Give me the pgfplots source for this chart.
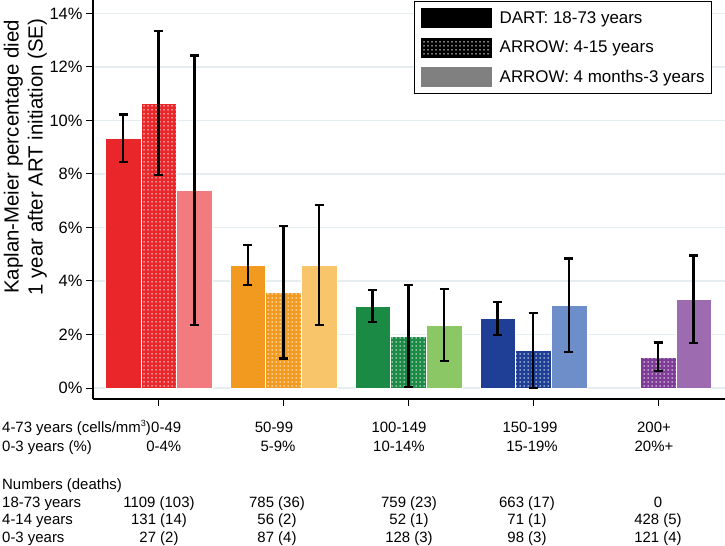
\documentclass[border=0pt]{standalone}
\usepackage{fontspec}
\setmainfont{Liberation Sans}
\usepackage{pgfplots}
\pgfplotsset{compat=1.18}
\usetikzlibrary{patterns.meta}

\definecolor{cred}{HTML}{E9262A}
\definecolor{credl}{HTML}{F27B80}
\definecolor{corange}{HTML}{F29A20}
\definecolor{corangel}{HTML}{F8C56B}
\definecolor{cgreen}{HTML}{1A8A44}
\definecolor{cgreenl}{HTML}{8BC765}
\definecolor{cblue}{HTML}{1F3F96}
\definecolor{cbluel}{HTML}{6D8EC8}
\definecolor{cpurple}{HTML}{7E3C98}
\definecolor{cpurplel}{HTML}{9D6BAF}
\definecolor{gridc}{HTML}{E6EDF1}

\tikzset{dotfill/.style={postaction={pattern={Dots[distance=4bp,radius=0.75bp]}, pattern color=white}}}
% bars sit at their own x (group centre -0.2856 / 0 / +0.2856)
\pgfplotsset{
  kmbar/.style={ybar, bar width=0.2856, bar shift=0, draw=white, line width=0.4bp, forget plot,
    error bars/y dir=both, error bars/y explicit,
    error bars/error bar style={line width=2.5bp, draw=black},
    error bars/error mark options={rotate=90, mark size=4.5bp, line width=2.4bp, draw=black}},
}
\newcommand\tabfont{\fontsize{15}{18}\selectfont}

\begin{document}
\begin{tikzpicture}
\useasboundingbox (-93bp,-147bp) rectangle (632bp,399bp);
\begin{axis}[
    scale only axis,
    width=632bp, height=399bp,
    xmin=-0.526, xmax=4.536,
    ymin=-0.41, ymax=14.5,
    axis x line*=bottom, axis y line*=left,
    axis line style={line width=1.2bp, -},
    xtick={0,1,2,3,4}, xticklabels={},
    ytick={0,2,4,6,8,10,12,14},
    yticklabels={0\%,2\%,4\%,6\%,8\%,10\%,12\%,14\%},
    yticklabel style={font=\fontsize{16.5}{19}\selectfont},
    tick align=outside,
    major tick length=7bp,
    tick style={line width=1bp, black},
    ymajorgrids, grid style={line width=1.6bp, gridc},
    ylabel={Kaplan-Meier percentage died\\1 year after ART initiation (SE)},
    ylabel style={at={(axis description cs:-0.0728,0.6065)}, anchor=south,
      inner sep=0pt, align=center, font=\fontsize{20.5}{24}\selectfont},
    clip=false,
    legend cell align=left,
    legend style={at={(axis description cs:0.9794,0.9975)}, anchor=north east,
      draw=black, line width=0.8bp, font=\fontsize{17}{19}\selectfont,
      inner xsep=7bp, inner ysep=7bp, row sep=9.5bp,
      nodes={inner sep=0pt}},
  ]
\addlegendimage{legend image code/.code={\fill[black] (0bp,-9.5bp) rectangle (70bp,9.5bp); \path (78bp,0bp);}}
\addlegendentry{DART: 18-73 years}
\addlegendimage{legend image code/.code={\fill[black, dotfill] (0bp,-9.5bp) rectangle (70bp,9.5bp); \path (78bp,0bp);}}
\addlegendentry{ARROW: 4-15 years}
\addlegendimage{legend image code/.code={\fill[gray] (0bp,-9.5bp) rectangle (70bp,9.5bp); \path (78bp,0bp);}}
\addlegendentry{ARROW: 4 months-3 years\hspace{5bp}}

% 0-49
\addplot[kmbar, fill=cred] coordinates {(-0.2856,9.33) +- (0,0.89)};
\addplot[kmbar, fill=cred, dotfill] coordinates {(0,10.66) +- (0,2.69)};
\addplot[kmbar, fill=credl] coordinates {(0.2856,7.39) +- (0,5.03)};
% 50-99
\addplot[kmbar, fill=corange] coordinates {(0.7144,4.60) +- (0,0.75)};
\addplot[kmbar, fill=corange, dotfill] coordinates {(1,3.58) +- (0,2.47)};
\addplot[kmbar, fill=corangel] coordinates {(1.2856,4.60) +- (0,2.24)};
% 100-149
\addplot[kmbar, fill=cgreen] coordinates {(1.7144,3.06) +- (0,0.60)};
\addplot[kmbar, fill=cgreen, dotfill] coordinates {(2,1.94) +- (0,1.90)};
\addplot[kmbar, fill=cgreenl] coordinates {(2.2856,2.36) +- (0,1.35)};
% 150-199
\addplot[kmbar, fill=cblue] coordinates {(2.7144,2.60) +- (0,0.62)};
\addplot[kmbar, fill=cblue, dotfill] coordinates {(3,1.41) +- (0,1.40)};
\addplot[kmbar, fill=cbluel] coordinates {(3.2856,3.09) +- (0,1.75)};
% 200+
\addplot[kmbar, fill=cpurple, dotfill] coordinates {(4,1.17) +- (0,0.53)};
\addplot[kmbar, fill=cpurplel] coordinates {(4.2856,3.32) +- (0,1.63)};
\end{axis}

\begin{scope}[every node/.style={font=\tabfont, inner sep=0pt}]
\node[anchor=base west] (lab) at (-91bp,-33bp) {4-73 years (cells/mm\raisebox{0.75ex}{\fontsize{9}{9}\selectfont 3})};
\node[anchor=base west] at (-91bp,-52bp) {0-3 years (\%)};
\node[anchor=base west] at (-91bp,-90bp) {Numbers (deaths)};
\node[anchor=base west] at (-91bp,-108bp) {18-73 years};
\node[anchor=base west] at (-91bp,-125bp) {4-14 years};
\node[anchor=base west] at (-91bp,-143bp) {0-3 years};

\node[anchor=base west] (c1) at (lab.base east) {0-49};
\node[anchor=base] at (181bp,-33bp) {50-99};
\node[anchor=base] at (306bp,-33bp) {100-149};
\node[anchor=base] at (437bp,-33bp) {150-199};
\node[anchor=base] at (561bp,-33bp) {200+};

\node[anchor=base east] at (c1.base east |- 0,-52bp) {0-4\%};
\node[anchor=base] at (185bp,-52bp) {5-9\%};
\node[anchor=base] at (306bp,-52bp) {10-14\%};
\node[anchor=base] at (439bp,-52bp) {15-19\%};
\node[anchor=base] at (561bp,-52bp) {20\%+};

\node[anchor=base] at (66bp,-108bp) {1109 (103)};
\node[anchor=base] at (184bp,-108bp) {785 (36)};
\node[anchor=base] at (316bp,-108bp) {759 (23)};
\node[anchor=base] at (434bp,-108bp) {663 (17)};
\node[anchor=base] at (565bp,-108bp) {0};

\node[anchor=base] at (66bp,-125bp) {131 (14)};
\node[anchor=base] at (184bp,-125bp) {56 (2)};
\node[anchor=base] at (316bp,-125bp) {52 (1)};
\node[anchor=base] at (434bp,-125bp) {71 (1)};
\node[anchor=base] at (565bp,-125bp) {428 (5)};

\node[anchor=base] at (66bp,-143bp) {27 (2)};
\node[anchor=base] at (184bp,-143bp) {87 (4)};
\node[anchor=base] at (316bp,-143bp) {128 (3)};
\node[anchor=base] at (434bp,-143bp) {98 (3)};
\node[anchor=base] at (565bp,-143bp) {121 (4)};
\end{scope}
\end{tikzpicture}
\end{document}
